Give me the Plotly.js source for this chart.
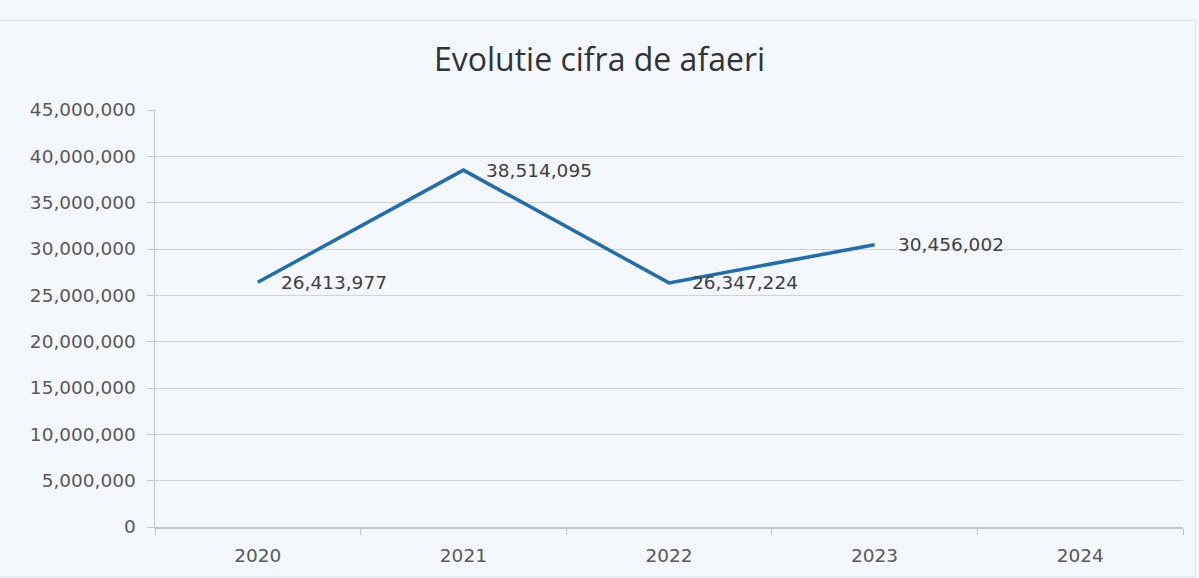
<!DOCTYPE html>
<html>
<head>
<meta charset="utf-8">
<script src="https://cdn.plot.ly/plotly-3.0.1.min.js"></script>
<style>
html,body{margin:0;padding:0;background:#f4f7fb;}
#chart{width:1199px;height:578px;}
</style>
</head>
<body>
<div id="chart"></div>
<script>
var years = ["2020", "2021", "2022", "2023", "2024"];
var revenue = [26413977, 38514095, 26347224, 30456002, null];
var labels = ["26,413,977", "38,514,095", "26,347,224", "30,456,002", ""];
var yTicks = [0, 5000000, 10000000, 15000000, 20000000, 25000000, 30000000, 35000000, 40000000, 45000000];
var yTickText = ["0", "5,000,000", "10,000,000", "15,000,000", "20,000,000", "25,000,000", "30,000,000", "35,000,000", "40,000,000", "45,000,000"];

var FONT = "Open Sans, Liberation Sans, sans-serif";
var NUMFONT = "DejaVu Sans, Open Sans, sans-serif";

var trace = {
  x: years,
  y: revenue,
  type: "scatter",
  mode: "lines",
  line: {color: "#1f6eb0", width: 3.5},
  connectgaps: false,
  hoverinfo: "x+y"
};

// data labels: placed at each category's serial index on the category axis
var annotations = [];
for (var i = 0; i < years.length; i++) {
  if (revenue[i] === null) continue;
  annotations.push({
    x: i, y: revenue[i], xref: "x", yref: "y",
    text: labels[i], showarrow: false,
    xanchor: "left", yanchor: "middle",
    xshift: 21, yshift: 0,
    font: {family: NUMFONT, size: 18.5, color: "#404040"}
  });
}

var layout = {
  width: 1199,
  height: 578,
  paper_bgcolor: "#f4f7fb",
  plot_bgcolor: "#f4f7fb",
  margin: {l: 155, r: 16, t: 110, b: 51},
  title: {
    text: "Evolutie cifra de afaeri",
    font: {family: FONT, size: 32, color: "#303336"},
    x: 0.5, xanchor: "center",
    y: 0.897, yanchor: "middle"
  },
  showlegend: false,
  annotations: annotations,
  xaxis: {
    type: "category",
    range: [-0.5, 4.5],
    tickson: "boundaries",
    ticks: "outside",
    ticklen: 6,
    tickcolor: "#c3c7cc",
    showgrid: false,
    showline: true,
    linecolor: "#c3c7cc",
    linewidth: 1.5,
    ticklabelstandoff: 11,
    tickfont: {family: NUMFONT, size: 18.5, color: "#595959"},
    fixedrange: true
  },
  yaxis: {
    range: [0, 45000000],
    tickvals: yTicks,
    ticktext: yTickText,
    ticks: "outside",
    ticklen: 7,
    tickcolor: "#c3c7cc",
    showgrid: true,
    gridcolor: "#cfd4da",
    gridwidth: 1,
    zeroline: false,
    showline: true,
    linecolor: "#c3c7cc",
    linewidth: 1.5,
    ticklabelstandoff: 7,
    tickfont: {family: NUMFONT, size: 18.5, color: "#595959"},
    fixedrange: true
  },
  shapes: [{
    type: "rect", xref: "paper", yref: "paper",
    x0: -0.152, x1: 1.012, y0: -0.12, y1: 1.215,
    line: {color: "#dde2e8", width: 1}, fillcolor: "rgba(0,0,0,0)", layer: "below"
  }]
};

Plotly.newPlot("chart", [trace], layout, {displayModeBar: false, staticPlot: true});
</script>
</body>
</html>
